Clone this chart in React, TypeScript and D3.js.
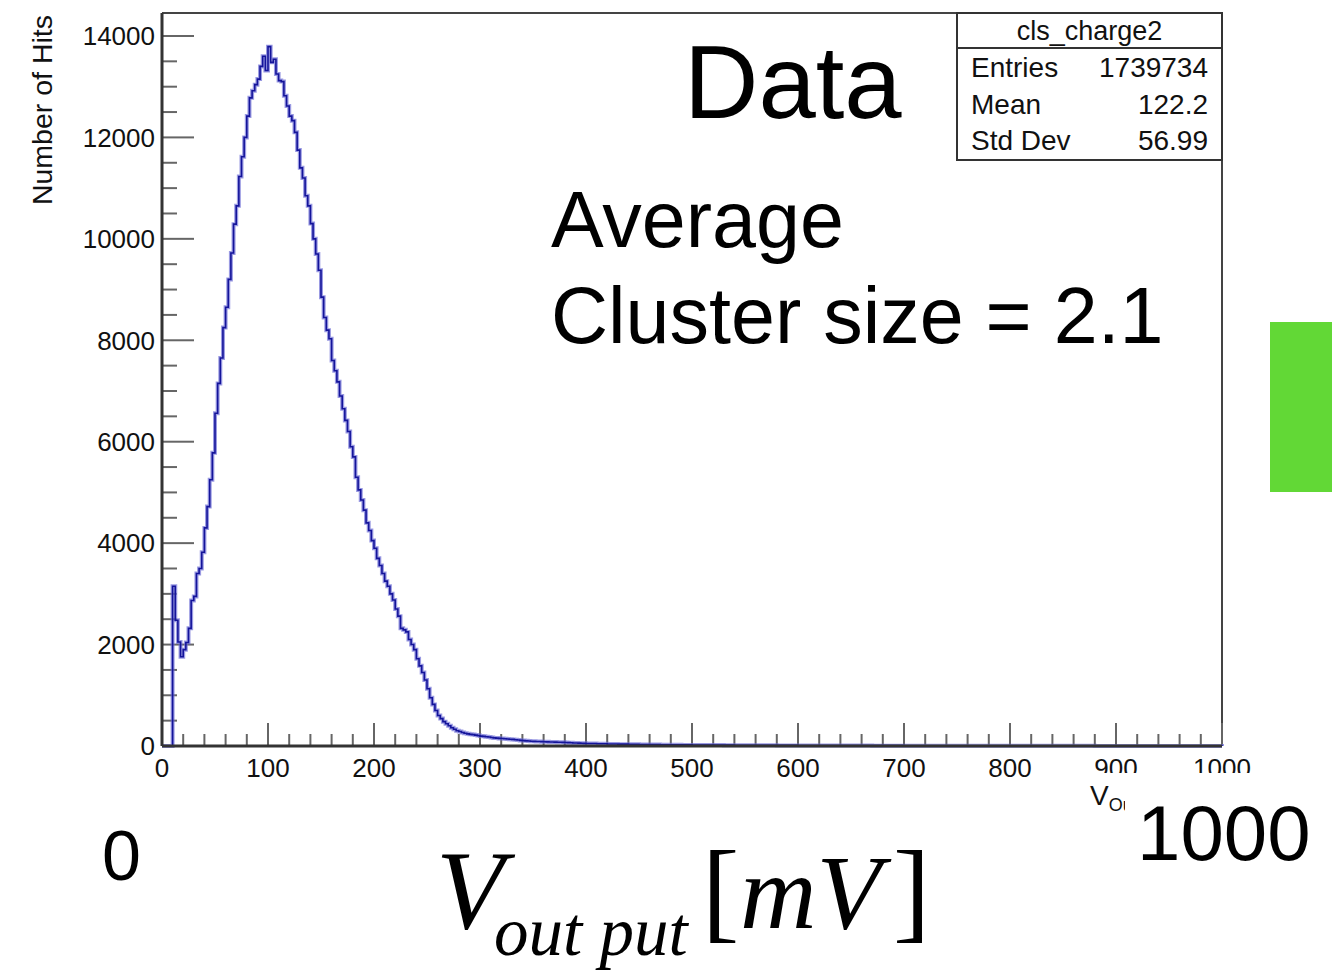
import React from 'react';
import * as d3 from 'd3';

// cls_charge2 histogram, 2.5 mV bins from 0 to 400 mV
const binWidth = 2.5;
const counts = [
  0, 0, 0, 0, 3150, 2480, 2050, 1760, 1900, 2040,
  2320, 2870, 2950, 3400, 3500, 3820, 4300, 4720, 5250, 5780,
  6560, 7150, 7650, 8250, 8650, 9200, 9720, 10290, 10650, 11230,
  11620, 12000, 12420, 12780, 12920, 13040, 13150, 13400, 13600, 13320,
  13790, 13480, 13540, 13250, 13120, 13100, 12820, 12620, 12420, 12330,
  12100, 11750, 11400, 11200, 10850, 10650, 10300, 10000, 9700, 9380,
  8850, 8450, 8200, 8030, 7600, 7400, 7180, 6900, 6650, 6420,
  6200, 5900, 5700, 5300, 5050, 4850, 4650, 4400, 4250, 4050,
  3900, 3700, 3560, 3400, 3250, 3150, 3000, 2880, 2700, 2560,
  2320, 2290, 2250, 2100, 2000, 1900, 1720, 1580, 1450, 1300,
  1130, 950, 820, 700, 600, 540, 480, 440, 400, 360,
  330, 300, 285, 265, 250, 240, 230, 225, 215, 205,
  195, 190, 182, 176, 168, 160, 156, 150, 148, 142,
  138, 133, 130, 122, 118, 110, 106, 102, 98, 95,
  92, 90, 88, 86, 84, 82, 80, 78, 77, 75,
  74, 72, 70, 66, 64, 60, 58, 56, 54, 52,
];

// tail from 400 to 1000 mV, 10 mV bins
const tailStart = 400;
const tailWidth = 10;
const tailCounts = [
  50, 45, 40, 36, 33, 30, 28, 26, 24, 22,
  20, 19, 18, 17, 16, 15, 14, 13, 12, 12,
  11, 10, 10, 9, 9, 8, 8, 7, 7, 7,
  6, 6, 6, 5, 5, 5, 5, 4, 4, 4,
  4, 4, 3, 3, 3, 3, 3, 3, 2, 2,
  2, 2, 2, 2, 2, 2, 2, 1, 1, 1,
];

const xMajor = [0, 100, 200, 300, 400, 500, 600, 700, 800, 900, 1000];
const yMajor = [0, 2000, 4000, 6000, 8000, 10000, 12000, 14000];
const statsTitle = 'cls_charge2';
const stats = [
  ['Entries', '1739734'],
  ['Mean', '122.2'],
  ['Std Dev', '56.99'],
];

const sans = "'Liberation Sans', Arial, Helvetica, sans-serif";
const serif = "'Liberation Serif', 'Times New Roman', serif";

export default function App() {
  const left = 162, right = 1222, top = 13, bottom = 746;
  const x = d3.scaleLinear().domain([0, 1000]).range([left, right]);
  const y = d3.scaleLinear().domain([0, 14453]).range([bottom, top]);

  const bins = [
    ...counts.map((v, i) => ({ x0: i * binWidth, x1: (i + 1) * binWidth, v })),
    ...tailCounts.map((v, i) => ({ x0: tailStart + i * tailWidth, x1: tailStart + (i + 1) * tailWidth, v })),
  ];
  const pts: [number, number][] = [[0, 0]];
  bins.forEach((b) => {
    pts.push([b.x0, b.v]);
    pts.push([b.x1, b.v]);
  });
  pts.push([1000, 0]);
  const line = d3.line<[number, number]>().x((d) => x(d[0])).y((d) => y(d[1]));
  const path = line(pts) || '';

  const xMinor = d3.range(0, 1001, 20).filter((v) => v % 100 !== 0);
  const yMinor = d3.range(0, 14001, 500).filter((v) => v % 2000 !== 0);

  return (
    <svg width={1332} height={979} style={{ position: 'absolute', left: 0, top: 0, background: '#fff' }}>
      <defs>
        <clipPath id="lblclip">
          <rect x={0} y={0} width={1085} height={979} />
          <rect x={1085} y={0} width={300} height={773} />
        </clipPath>
        <clipPath id="titleclip">
          <rect x={1000} y={770} width={125} height={60} />
        </clipPath>
      </defs>

      {/* frame */}
      <line x1={left} x2={right} y1={top} y2={top} stroke="#444" strokeWidth={2} />
      <line x1={right} x2={right} y1={top} y2={bottom} stroke="#444" strokeWidth={2} />

      {/* ticks */}
      {xMajor.map((v) => (
        <line key={'xM' + v} x1={x(v)} x2={x(v)} y1={bottom} y2={bottom - 23} stroke="#666" strokeWidth={2} />
      ))}
      {xMinor.map((v) => (
        <line key={'xm' + v} x1={x(v)} x2={x(v)} y1={bottom} y2={bottom - 12} stroke="#666" strokeWidth={2} />
      ))}
      {yMajor.map((v) => (
        <line key={'yM' + v} x1={left} x2={left + 32} y1={y(v)} y2={y(v)} stroke="#666" strokeWidth={2} />
      ))}
      {yMinor.map((v) => (
        <line key={'ym' + v} x1={left} x2={left + 15} y1={y(v)} y2={y(v)} stroke="#666" strokeWidth={2} />
      ))}

      {/* histogram */}
      <path d={path} fill="none" stroke="#6f6fd6" strokeWidth={4} strokeOpacity={0.7} />
      <path d={path} fill="none" stroke="#14149a" strokeWidth={1.6} />

      {/* axes */}
      <line x1={left} x2={right} y1={bottom} y2={bottom} stroke="#333" strokeWidth={3} />
      <line x1={left} x2={left} y1={top} y2={bottom} stroke="#333" strokeWidth={3} />

      {/* tick labels */}
      <g fontFamily={sans} fontSize={26} fill="#111">
        {yMajor.map((v) => (
          <text key={'yl' + v} x={left - 7} y={y(v)} dy="0.36em" textAnchor="end">{v}</text>
        ))}
        <g clipPath="url(#lblclip)">
          {xMajor.map((v) => (
            <text key={'xl' + v} x={x(v)} y={777} textAnchor="middle">{v}</text>
          ))}
        </g>
        <text transform="translate(52,15) rotate(-90)" textAnchor="end" fontSize={28.5}>Number of Hits</text>
        <g clipPath="url(#titleclip)">
          <text x={1090} y={805} fontSize={28}>V<tspan fontSize={18} dy={6}>Ou</tspan></text>
        </g>
      </g>

      {/* stats box */}
      <g fontFamily={sans} fill="#111">
        <rect x={957} y={top} width={right - 957} height={147} fill="#fff" stroke="#333" strokeWidth={2} />
        <line x1={957} x2={right} y1={48} y2={48} stroke="#333" strokeWidth={2} />
        <text x={(957 + right) / 2} y={40} textAnchor="middle" fontSize={27}>{statsTitle}</text>
        {stats.map((s, i) => (
          <g key={s[0]}>
            <text x={971} y={77 + i * 36.5} fontSize={28}>{s[0]}</text>
            <text x={1208} y={77 + i * 36.5} fontSize={28} textAnchor="end">{s[1]}</text>
          </g>
        ))}
      </g>

      {/* slide annotations */}
      <g fontFamily={sans} fill="#000">
        <text x={684} y={118} fontSize={103}>Data</text>
        <text x={551} y={247} fontSize={79}>Average</text>
        <text x={551} y={343} fontSize={79}>Cluster size = 2.1</text>
        <text x={102} y={880} fontSize={70}>0</text>
        <text x={1137} y={860} fontSize={78}>1000</text>
      </g>
      <text fontFamily={serif} fill="#000">
        <tspan x={436} y={928} fontSize={112} fontStyle="italic">V</tspan>
        <tspan x={494} y={955} fontSize={69} fontStyle="italic">out put</tspan>
        <tspan x={702} y={928} fontSize={112}>[</tspan>
        <tspan x={740} y={928} fontSize={106} fontStyle="italic">mV</tspan>
        <tspan x={893} y={928} fontSize={112}>]</tspan>
      </text>

      <rect x={1270} y={322} width={62} height={170} fill="#62d836" />
    </svg>
  );
}
